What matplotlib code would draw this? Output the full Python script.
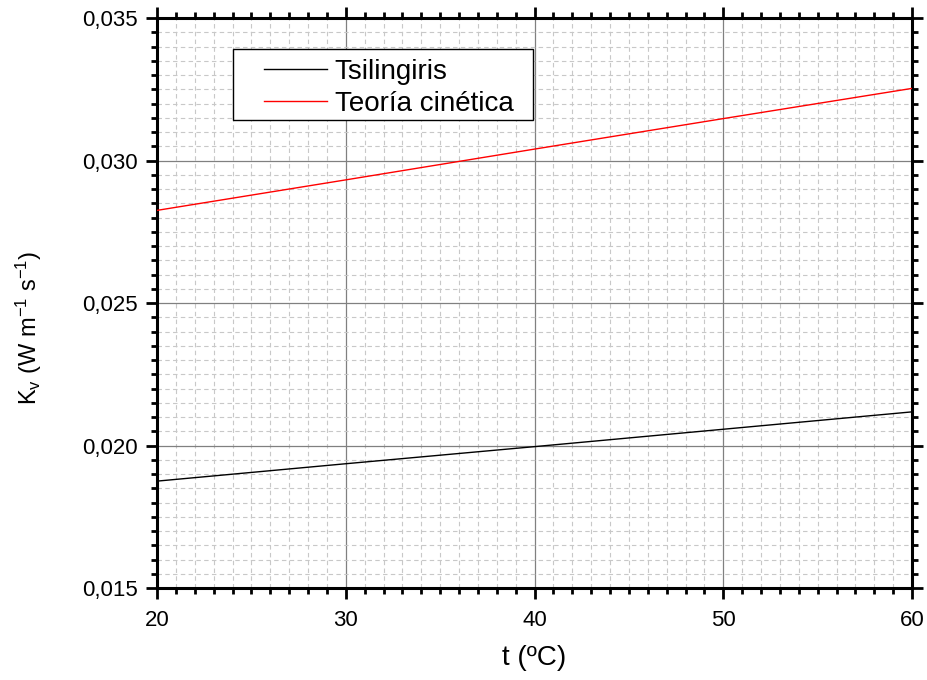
import matplotlib
matplotlib.use("Agg")
import matplotlib.pyplot as plt
from matplotlib.ticker import MultipleLocator, FuncFormatter
from matplotlib.patches import Rectangle

plt.rcParams['font.family'] = ['Liberation Sans', 'DejaVu Sans']
plt.rcParams['mathtext.fontset'] = 'custom'
plt.rcParams['mathtext.rm'] = 'Liberation Sans'
plt.rcParams['mathtext.it'] = 'Liberation Sans'

t = [20, 30, 40, 50, 60]
tsilingiris = [0.01875, 0.01936, 0.01996, 0.02057, 0.02118]
teoria = [0.02825, 0.02932, 0.03040, 0.03147, 0.03253]
series_labels = ["Tsilingiris", "Teoría cinética"]

W, H = 927, 680
L, R, B, T = 157, 912, 588, 18
fig = plt.figure(figsize=(W/100, H/100), dpi=100)
ax = fig.add_axes([L/W, 1-B/H, (R-L)/W, (B-T)/H])

def ax_xy(px, py):
    return (px - L) / (R - L), (B - py) / (B - T)

ax.plot(t, tsilingiris, color='black', lw=1.0, label=series_labels[0], zorder=3)
ax.plot(t, teoria, color='red', lw=1.0, label=series_labels[1], zorder=3)

ax.set_xlim(20, 60)
ax.set_ylim(0.015, 0.035)
ax.xaxis.set_major_locator(MultipleLocator(10))
ax.xaxis.set_minor_locator(MultipleLocator(1))
ax.yaxis.set_major_locator(MultipleLocator(0.005))
ax.yaxis.set_minor_locator(MultipleLocator(0.0005))
ax.yaxis.set_major_formatter(FuncFormatter(lambda v, p: f"{v:.3f}".replace('.', ',')))

ax.grid(which='major', color='#808080', lw=0.9, ls='-', zorder=1)
ax.grid(which='minor', color='#c8c8c8', lw=0.8, ls=(0, (4, 3)), zorder=0)
ax.set_axisbelow(True)

for s in ax.spines.values():
    s.set_linewidth(2.2)
ax.tick_params(which='both', direction='out', top=True, right=True, width=2.0)
ax.tick_params(which='major', length=8, labelsize=16, pad=6)
ax.tick_params(which='minor', length=4.5)
ax.tick_params(axis='x', which='major', pad=8)

ax.set_xlabel("t (ºC)", fontsize=20, labelpad=10)
ax.set_ylabel(r"K$_\mathregular{v}$ (W m$^\mathregular{-1}$ s$^\mathregular{-1}$)", fontsize=17)
ax.yaxis.set_label_coords(*ax_xy(44, 328))

# legend frame
x0, y0 = ax_xy(233, 120)
x1, y1 = ax_xy(533, 49)
ax.add_patch(Rectangle((x0, y0), x1 - x0, y1 - y0, transform=ax.transAxes,
                       facecolor='white', edgecolor='black', lw=1.0, zorder=4))
leg = ax.legend(loc='upper left', bbox_to_anchor=ax_xy(264, 59),
                borderaxespad=0, borderpad=0, fontsize=20, frameon=False,
                handlelength=2.25, handletextpad=0.3, labelspacing=0.22)
leg.set_zorder(5)

fig.savefig("out.png", dpi=100)
